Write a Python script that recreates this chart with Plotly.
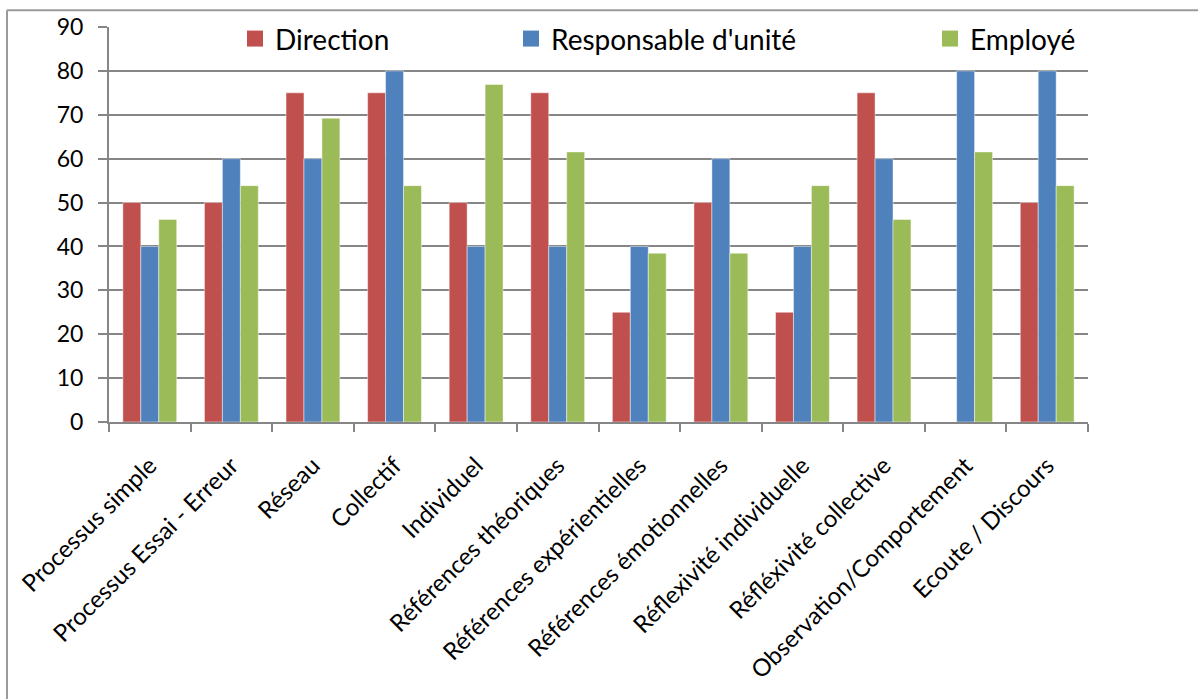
import plotly.graph_objects as go

categories = [
    "Processus simple", "Processus Essai - Erreur", "Réseau", "Collectif",
    "Individuel", "Références théoriques", "Références expérientielles",
    "Références émotionnelles", "Réflexivité individuelle",
    "Réfléxivité collective", "Observation/Comportement", "Ecoute / Discours",
]
direction = [50, 50, 75, 75, 50, 75, 25, 50, 25, 75, 0, 50]
responsable = [40, 60, 60, 80, 40, 40, 40, 60, 40, 60, 80, 80]
employe = [46.15, 53.85, 69.23, 53.85, 76.92, 61.54, 38.46, 38.46, 53.85, 46.15, 61.54, 53.85]
y_ticks = [0, 10, 20, 30, 40, 50, 60, 70, 80, 90]

series = [
    ("Direction", direction, "#C0504D", "legend"),
    ("Responsable d'unité", responsable, "#4F81BD", "legend2"),
    ("Employé", employe, "#9BBB59", "legend3"),
]

FONT = "Lato, 'Open Sans', sans-serif"
W, H = 1198, 699
L, R, T, B = 109, 110, 23, 277
PW = W - L - R
PH = H - T - B

fig = go.Figure()
for name, vals, color, leg in series:
    fig.add_trace(go.Bar(
        x=categories, y=vals, name=name, showlegend=False,
        marker=dict(color=color, line=dict(color="rgba(255,255,255,0.45)", width=1)),
    ))
    # legend entry with a larger square key
    fig.add_trace(go.Scatter(
        x=[None], y=[None], mode="markers", name=name, legend=leg,
        marker=dict(symbol="square", size=20, color=color),
    ))

def legend_at(px):
    return dict(
        x=(px - L) / PW, y=1 - (35 - T) / PH, xanchor="left", yanchor="middle",
        bgcolor="rgba(0,0,0,0)", font=dict(family=FONT, size=28, color="#000"),
        itemwidth=30, tracegroupgap=0, itemsizing="trace",
    )

fig.update_layout(
    width=W, height=H,
    margin=dict(l=L, r=R, t=T, b=B),
    paper_bgcolor="white", plot_bgcolor="white",
    barmode="group", bargap=0.34, bargroupgap=0,
    font=dict(family=FONT, size=22, color="#000"),
    showlegend=True,
    legend=legend_at(235),
    legend2=legend_at(511),
    legend3=legend_at(930),
    xaxis=dict(
        type="category", tickangle=-45, tickson="boundaries",
        ticks="outside", ticklen=8, tickcolor="#868686", tickwidth=2,
        showline=True, linecolor="#868686", linewidth=2,
        showgrid=False, tickfont=dict(family=FONT, size=24),
        ticklabelstandoff=18,
    ),
    yaxis=dict(
        range=[0, 90], tickvals=y_ticks, ticks="outside", ticklen=9,
        tickcolor="#868686", tickwidth=2,
        showline=True, linecolor="#868686", linewidth=2,
        showgrid=True, gridcolor="#868686", gridwidth=2,
        zeroline=False, tickfont=dict(family=FONT, size=23),
        ticklabelstandoff=10,
    ),
)

# Outer frame: top and left edges of the chart area
fig.add_shape(type="line", xref="paper", yref="paper",
              x0=(7 - L) / PW, x1=(W + 5 - L) / PW,
              y0=(H - B - 6) / PH, y1=(H - B - 6) / PH,
              line=dict(color="#9a9a9a", width=2))
fig.add_shape(type="line", xref="paper", yref="paper",
              x0=(7 - L) / PW, x1=(7 - L) / PW,
              y0=(H - B - 6) / PH, y1=(H - B - H - 5) / PH,
              line=dict(color="#9a9a9a", width=2))

fig.write_html("out.html")
